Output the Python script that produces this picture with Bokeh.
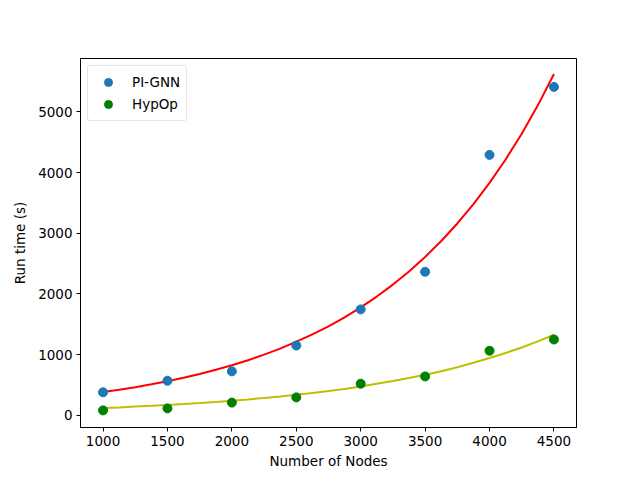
from bokeh.plotting import figure
from bokeh.models import FixedTicker, Range1d, Legend, LegendItem
from bokeh.embed import file_html
from bokeh.resources import INLINE

# Data
nodes = [1000, 1500, 2000, 2500, 3000, 3500, 4000, 4500]
pignn_time = [380, 570, 725, 1150, 1745, 2365, 4290, 5410]
hypop_time = [82, 115, 210, 296, 521, 641, 1064, 1250]

# Fitted curves at regular node counts
fit_nodes = [1000, 1125, 1250, 1375, 1500, 1625, 1750, 1875, 2000, 2125, 2250, 2375,
             2500, 2625, 2750, 2875, 3000, 3125, 3250, 3375, 3500, 3625, 3750, 3875,
             4000, 4125, 4250, 4375, 4500]
pignn_fit = [383, 422, 464, 511, 562, 619, 681, 750, 825, 908, 1000, 1100,
             1215, 1333, 1467, 1615, 1778, 1957, 2154, 2371, 2609, 2872, 3161, 3480,
             3830, 4215, 4640, 5106, 5622]
hypop_fit = [120, 131, 144, 157, 172, 187, 204, 222, 242, 263, 286, 311,
             338, 368, 400, 436, 476, 519, 565, 615, 669, 728, 793, 866,
             945, 1028, 1118, 1218, 1327]

x_ticks = [1000, 1500, 2000, 2500, 3000, 3500, 4000, 4500]
y_ticks = [0, 1000, 2000, 3000, 4000, 5000]

FONT = "DejaVu Sans"

p = figure(width=632, height=472, output_backend="svg", toolbar_location=None,
           x_range=Range1d(825, 4675), y_range=Range1d(-200, 5878),
           min_border_left=80, min_border_right=56, min_border_top=58, min_border_bottom=45)

p.xgrid.visible = False
p.ygrid.visible = False
p.outline_line_color = "black"
p.outline_line_width = 1
p.background_fill_color = "white"
p.border_fill_color = "white"

for ax in (p.xaxis[0], p.yaxis[0]):
    ax.axis_line_color = "black"
    ax.major_tick_line_color = "black"
    ax.major_tick_out = 4
    ax.major_tick_in = 0
    ax.minor_tick_line_color = None
    ax.major_label_text_font = FONT
    ax.major_label_text_font_size = "13.5px"
    ax.major_label_text_color = "black"
    ax.axis_label_text_font = FONT
    ax.axis_label_text_font_size = "13.5px"
    ax.axis_label_text_font_style = "normal"
    ax.axis_label_text_color = "black"

p.xaxis.ticker = FixedTicker(ticks=x_ticks)
p.yaxis.ticker = FixedTicker(ticks=y_ticks)
p.xaxis.axis_label = "Number of Nodes"
p.yaxis.axis_label = "Run time (s)"
p.xaxis.axis_label_standoff = 4
p.yaxis.axis_label_standoff = 7
p.xaxis.major_label_standoff = 4
p.yaxis.major_label_standoff = 4

r_pfit = p.line(fit_nodes, pignn_fit, line_color="red", line_width=2)
r_hfit = p.line(fit_nodes, hypop_fit, line_color="#bfbf00", line_width=2)
r_p = p.scatter(nodes, pignn_time, size=9, fill_color="#1f77b4", line_color="#1f77b4")
r_h = p.scatter(nodes, hypop_time, size=9, fill_color="green", line_color="green")

legend = Legend(items=[LegendItem(label="PI-GNN", renderers=[r_p]),
                       LegendItem(label="HypOp", renderers=[r_h])],
                location="top_left")
legend.label_text_font = FONT
legend.label_text_font_size = "13.5px"
legend.label_text_color = "black"
legend.border_line_color = "#cccccc"
legend.border_line_width = 1
legend.border_radius = 3
legend.margin = 7
legend.padding = 6
legend.spacing = 2
legend.glyph_width = 28
legend.label_standoff = 10
legend.background_fill_alpha = 0.8
p.add_layout(legend)

open("out.html", "w").write(file_html(p, INLINE))
